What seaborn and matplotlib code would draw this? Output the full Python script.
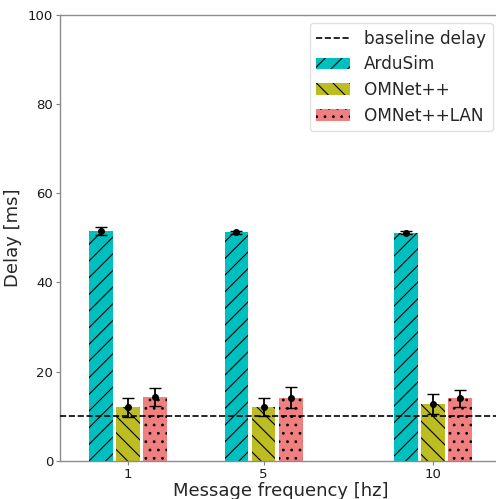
import matplotlib
matplotlib.use("Agg")
import matplotlib.pyplot as plt
from matplotlib.lines import Line2D
import numpy as np
import pandas as pd
import seaborn as sns

# Message frequencies (hz) and mean delay (ms) per simulator, with spread
frequencies = [1, 5, 10]
series_names = ["ArduSim", "OMNet++", "OMNet++LAN"]
ardusim_delay = [51.5, 51.2, 51.1]
ardusim_err = [0.8, 0.3, 0.3]
omnet_delay = [12.0, 12.0, 12.8]
omnet_err = [2.2, 2.0, 2.2]
omnet_lan_delay = [14.3, 14.2, 14.1]
omnet_lan_err = [2.0, 2.3, 1.9]
baseline_delay = 10

offsets = [-0.8, 0.0, 0.8]
colors = ["#00BFBF", "#BCBD22", "#F08080"]
hatches = ["//", "\\\\", ".."]

means = [ardusim_delay, omnet_delay, omnet_lan_delay]
errs = [ardusim_err, omnet_err, omnet_lan_err]

rows = []
for name, off, m, e in zip(series_names, offsets, means, errs):
    for f, v, s in zip(frequencies, m, e):
        rows.append({"pos": f + off, "delay": v, "err": s, "series": name})
df = pd.DataFrame(rows)

sns.set_style("white")
plt.rcParams["font.family"] = ["DejaVu Sans"]
plt.rcParams["hatch.linewidth"] = 0.8

fig = plt.figure(figsize=(4.96, 4.99), dpi=100)
W, H = 496, 499
ax = fig.add_axes([60 / W, (H - 461) / H, (501 - 60) / W, (461 - 14.5) / H])

sns.barplot(
    data=df, x="pos", y="delay", hue="series", hue_order=series_names,
    palette=dict(zip(series_names, colors)), native_scale=True, dodge=False,
    width=0.875, errorbar=None, saturation=1, legend=False, ax=ax,
)

for cont, h in zip(ax.containers, hatches):
    for p in cont.patches:
        p.set_hatch(h)
        p.set_edgecolor("black")
        p.set_linewidth(0)

ax.errorbar(df["pos"], df["delay"], yerr=df["err"], fmt="o", color="black",
            ms=4, elinewidth=1.3, capsize=4, capthick=1, zorder=5)

ax.axhline(baseline_delay, color="black", ls="--", lw=1.2, zorder=4)

ax.set_xlim(-1, 12)
ax.set_ylim(0, 100)
ax.set_xticks(frequencies)
ax.set_xticklabels([str(f) for f in frequencies])
ax.set_yticks(np.arange(0, 101, 20))
ax.tick_params(axis="both", labelsize=9.5, length=3, pad=2, color="0.5",
               labelcolor="0.1", bottom=True, left=True)
for side in ["left", "top", "bottom", "right"]:
    ax.spines[side].set_color("0.55")
    ax.spines[side].set_linewidth(1.0)

ax.set_xlabel("Message frequency [hz]", fontsize=13, labelpad=1)
ax.set_ylabel("Delay [ms]", fontsize=13, labelpad=4)

handles = [Line2D([0], [0], color="black", ls="--", lw=1.2)] + list(ax.containers)
labels = ["baseline delay"] + series_names
ax.legend(handles, labels, loc="upper right", fontsize=12.2, frameon=True,
          edgecolor="0.85", fancybox=True, labelspacing=0.45)

fig.savefig("out.png", dpi=100)
